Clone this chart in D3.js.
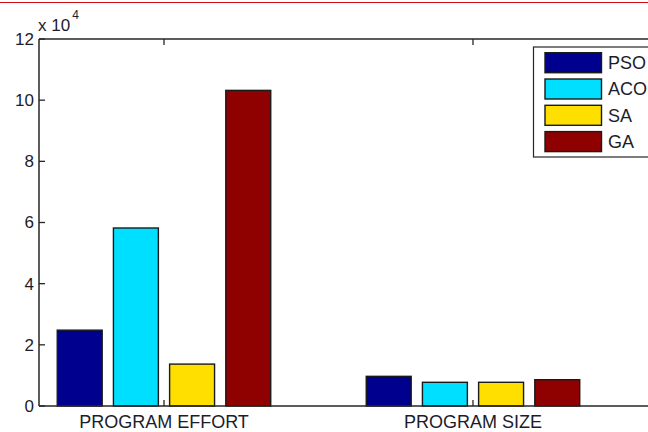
<!DOCTYPE html>
<html><head><meta charset="utf-8">
<script src="https://cdn.jsdelivr.net/npm/d3@7"></script>
<style>html,body{margin:0;padding:0;background:#fff;}svg{display:block;}</style>
</head><body>
<script>
const categories = ["PROGRAM EFFORT", "PROGRAM SIZE"];
const seriesNames = ["PSO", "ACO", "SA", "GA"];
const PSO = [24800, 9700];
const ACO = [58200, 7750];
const SA  = [13700, 7750];
const GA  = [103200, 8600];
const yTicks = [0, 20000, 40000, 60000, 80000, 100000, 120000];
const yTickLabels = ["0", "2", "4", "6", "8", "10", "12"];
const colors = ["#00008f", "#00dfff", "#ffdf00", "#8f0000"];

(function () {
const W = 648, H = 432;
const svg = d3.select("body").append("svg").attr("width", W).attr("height", H);
const font = "'Liberation Sans', Arial, sans-serif";
const axisColor = "#262626";
const textColor = "#1c1c2c";

// red frame line at top
svg.append("line").attr("x1", 0).attr("x2", W).attr("y1", 2.5).attr("y2", 2.5)
  .attr("stroke", "#d01010").attr("stroke-width", 1.2);

const pLeft = 39, pTop = 39, pBottom = 406;
const y = d3.scaleLinear().domain([0, 120000]).range([pBottom, pTop]);
const x = d3.scaleLinear().domain([0.5955, 2.5955]).range([pLeft, pLeft + 2 * 309]);

const series = [PSO, ACO, SA, GA];
const groupW = 4 / 5.5;
const slot = groupW / 4;
const barW = slot * 0.8;

const g = svg.append("g");
series.forEach((vals, si) => {
  vals.forEach((v, ci) => {
    const c = ci + 1 + (si - 1.5) * slot;
    const x0 = x(c - barW / 2), x1 = x(c + barW / 2);
    g.append("rect")
      .attr("x", x0).attr("y", y(v))
      .attr("width", x1 - x0).attr("height", y(0) - y(v))
      .attr("fill", colors[si]).attr("stroke", "#1a1a1a").attr("stroke-width", 1.4);
  });
});

// axes lines
svg.append("line").attr("x1", pLeft).attr("x2", W + 5).attr("y1", pBottom).attr("y2", pBottom)
  .attr("stroke", axisColor).attr("stroke-width", 1.5);
svg.append("line").attr("x1", pLeft).attr("x2", W + 5).attr("y1", pTop).attr("y2", pTop)
  .attr("stroke", axisColor).attr("stroke-width", 1.5);
svg.append("line").attr("x1", pLeft).attr("x2", pLeft).attr("y1", pTop).attr("y2", pBottom)
  .attr("stroke", axisColor).attr("stroke-width", 1.5);

// y ticks
yTicks.forEach((t, i) => {
  svg.append("line").attr("x1", pLeft).attr("x2", pLeft + 6).attr("y1", y(t)).attr("y2", y(t))
    .attr("stroke", axisColor).attr("stroke-width", 1.3);
  svg.append("text").attr("x", pLeft - 5).attr("y", y(t)).attr("dy", "0.35em")
    .attr("text-anchor", "end").attr("font-family", font).attr("font-size", 17)
    .attr("fill", textColor).text(yTickLabels[i]);
});

// x ticks and labels
categories.forEach((c, i) => {
  const xc = x(i + 1);
  svg.append("line").attr("x1", xc).attr("x2", xc).attr("y1", pBottom).attr("y2", pBottom - 6)
    .attr("stroke", axisColor).attr("stroke-width", 1.3);
  svg.append("line").attr("x1", xc).attr("x2", xc).attr("y1", pTop).attr("y2", pTop + 6)
    .attr("stroke", axisColor).attr("stroke-width", 1.3);
  svg.append("text").attr("x", xc).attr("y", 428)
    .attr("text-anchor", "middle").attr("font-family", font).attr("font-size", 18)
    .attr("fill", textColor).text(c);
});

// exponent label
const ex = svg.append("text").attr("x", 38).attr("y", 31)
  .attr("font-family", font).attr("font-size", 17).attr("fill", textColor);
ex.append("tspan").text("x 10");
ex.append("tspan").attr("dy", -12).attr("font-size", 12).attr("dx", 2).text("4");

// legend
const lg = svg.append("g");
lg.append("rect").attr("x", 533.5).attr("y", 47).attr("width", 130).attr("height", 110)
  .attr("fill", "#fff").attr("stroke", axisColor).attr("stroke-width", 1.2);
seriesNames.forEach((n, i) => {
  const yy = 52.7 + i * 26.3;
  lg.append("rect").attr("x", 545).attr("y", yy).attr("width", 56.5).attr("height", 20)
    .attr("fill", colors[i]).attr("stroke", "#1a1a1a").attr("stroke-width", 1.4);
  lg.append("text").attr("x", 608).attr("y", yy + 10).attr("dy", "0.36em")
    .attr("font-family", font).attr("font-size", 18).attr("fill", textColor).text(n);
});
})();
</script>
</body></html>
